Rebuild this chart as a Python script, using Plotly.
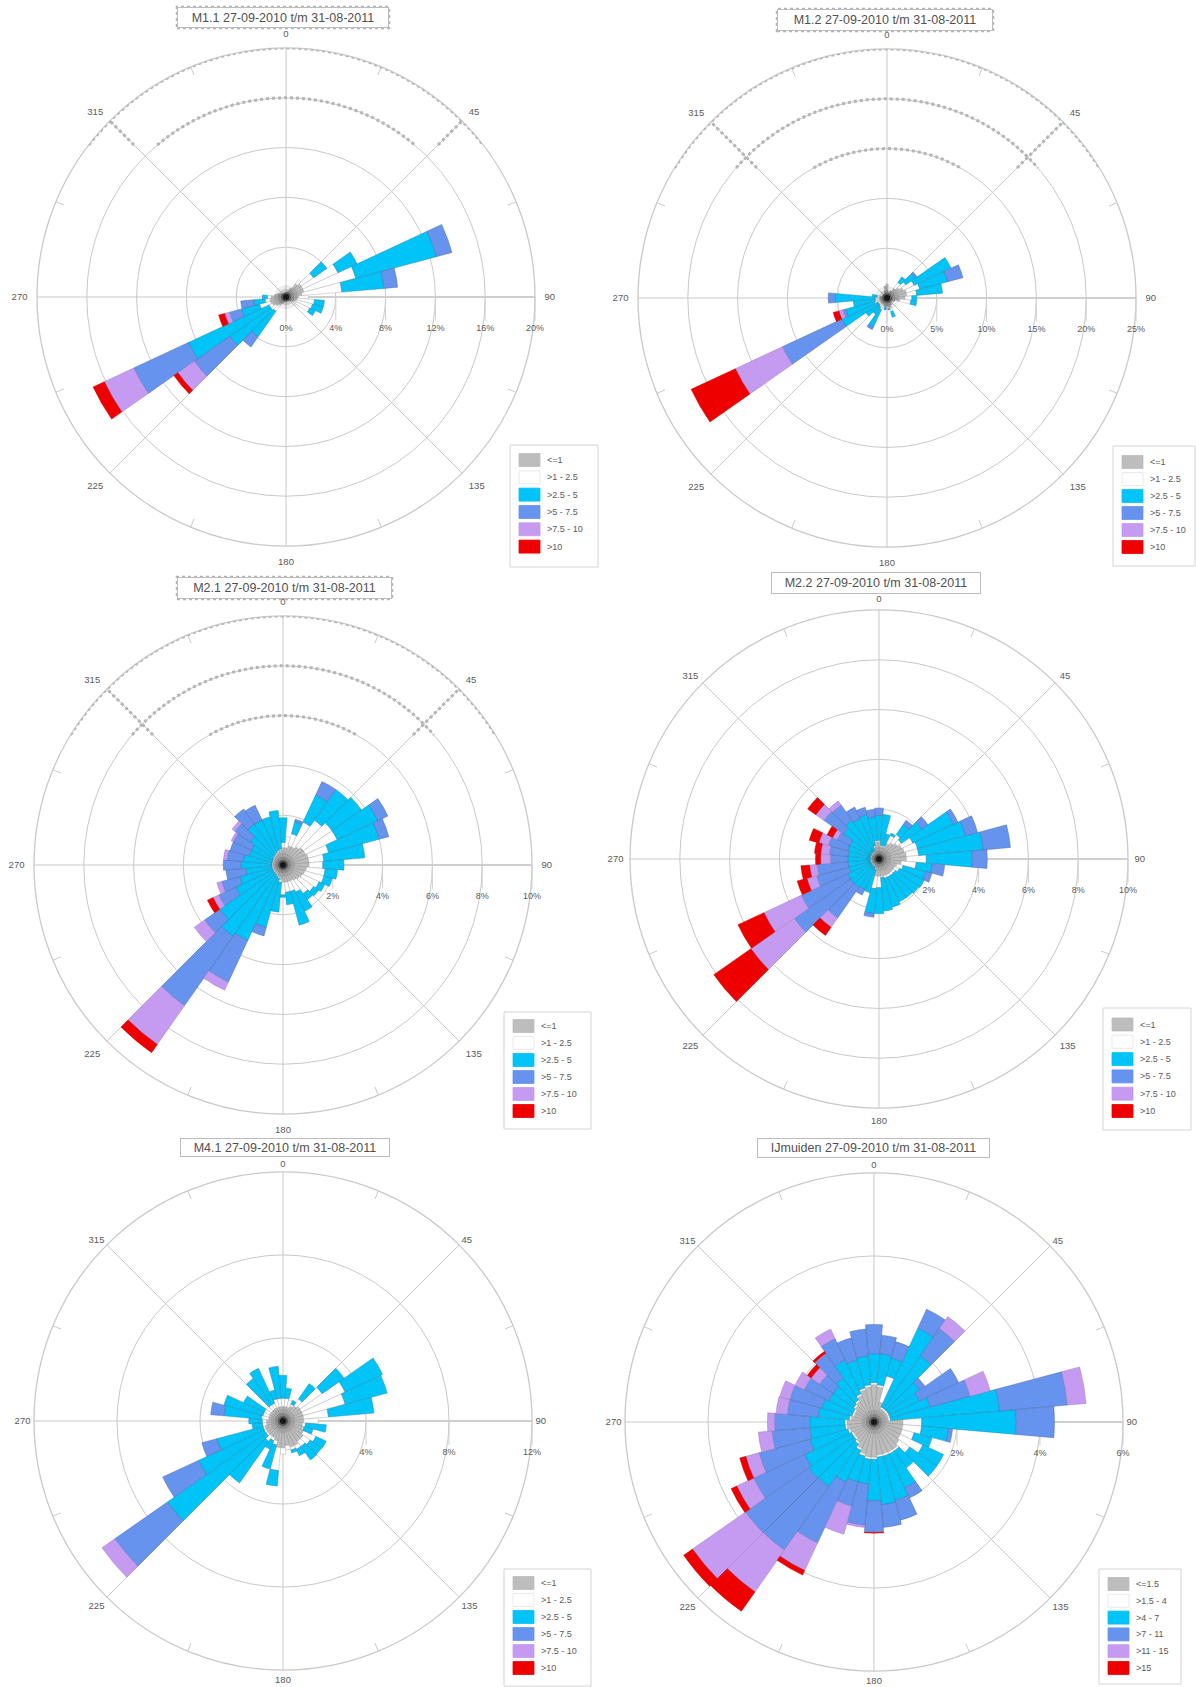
import numpy as np
import plotly.graph_objects as go

W, H = 1196, 1687
THETA = list(range(0, 360, 10))
CLASS_COLORS = ["#bdbdbd", "#ffffff", "#00c3f7", "#6693ee", "#c49bf0", "#ee0000"]
LINE_COLORS = ["#8a8a8a", "#aaaaaa", "#2a86a8", "#4a66a8", "#9a78c0", "#bb0000"]
LABELS_A = ["<=1", ">1 - 2.5", ">2.5 - 5", ">5 - 7.5", ">7.5 - 10", ">10"]
LABELS_B = ["<=1.5", ">1.5 - 4", ">4 - 7", ">7 - 11", ">11 - 15", ">15"]

# Outer limit of each speed class per direction, in percent (direction: value)
M11_GREY = [.3,.3,.5,.8,1.3,1.5,1.5,1.5,1.3,1.0,.9,.8,.7,.5,.4,.3,.3,.3,.3,.3,.4,.6,.8,1.0,1.2,1.3,1.3,1.2,.9,.7,.5,.4,.3,.3,.3,.3]
M11_WHITE = {40:1.7,50:2.7,60:4.6,70:5.8,80:4.5,90:1.8,100:2.3,110:2.2,120:2.1,130:1.0,220:1.4,230:1.5,240:1.5,250:2.2,260:1.7,270:1.5}
M11_CYAN = {50:4,60:6.3,70:12.5,80:7.9,100:3.1,110:3.1,120:2.6,220:3.9,230:5.5,240:8.65,250:3.7,260:2.6,270:1.9}
M11_BLUE = {70:13.8,80:9,220:4.9,230:9,240:13.5,250:4.7,260:3.65}
M11_PURPLE = {230:10.6,240:16.1,250:5.1}
M11_RED = {230:11,240:17.1,250:5.6}

M12_GREY = [1.4,.6,.6,.8,1.2,1.5,1.8,2,2,1.8,1.3,.8,.6,.5,.6,.8,1,1,.8,.9,.8,.7,.7,.7,.7,.7,.7,.7,.7,.5,.5,.5,.5,.5,.7,1.2]
M12_WHITE = {40:1.9,50:2.3,60:3,70:3.4,80:3,90:2.5,100:2.4,160:1.4,170:1.1,210:1.3,220:1.1,230:1,240:1,250:1.3,260:1.2,270:1.2,280:1}
M12_CYAN = {40:2.6,50:3.5,60:7.1,70:6.3,80:5.6,90:3,100:3,160:2,170:1.2,190:1.2,210:3.2,220:2,230:2.6,240:5,250:4.3,260:3.4,270:5.2,280:1.5}
M12_BLUE = {50:3.7,70:7.9,210:3.5,240:11.6,250:4.6,270:5.9}
M12_PURPLE = {240:16.8,250:5}
M12_RED = {240:21.7,250:5.6}

M21_GREY = [.7,.7,.8,.8,.9,1,1,1.05,1.05,1.05,.95,.9,.85,.8,.75,.7,.7,.7,.7,.6,.5,.45,.4,.4,.4,.4,.4,.4,.4,.4,.4,.45,.45,.5,.55,.6]
M21_WHITE = [.9,1.15,1.3,1.9,2.2,2.4,2.4,1.9,1.65,1.6,1.7,1.7,1.6,1.5,1.4,1.2,1.1,1.1,1.2,.7,.55,.5,.45,.45,.45,.45,.45,.45,.45,.45,.45,.5,.5,.55,.6,.65]
M21_CYAN = [1.9,1.15,1.8,3.1,3.7,3.85,4.2,4,3.3,2.45,2.2,2.05,1.85,1.75,1.7,2.05,2.5,1.6,1.3,1.9,2.6,3.35,3.5,3.1,2.1,1.8,1.5,1.7,1.6,1.4,1.4,1.6,2,2,2,2.2]
M21_BLUE = {20:1.9,30:3.7,60:4.65,70:4.4,200:2.95,210:5.2,220:6.9,230:3.85,240:2.85,250:2.55,260:2.3,270:2.4,280:2.25,290:2.2,300:2.2,310:2.35,320:2.75,330:2.65}
M21_PURPLE = {210:5.55,220:8.8,230:4.35,240:3.1,250:2.75,280:2.4,300:2.3,310:2.5}
M21_RED = {220:9.2,240:3.35}

M22_GREY = [.7,.5,.5,.7,.8,.9,1,1.05,1.1,1.1,.9,.75,.7,.7,.7,.7,.7,.7,.7,.7,.4,.3,.3,.3,.3,.3,.3,.3,.3,.3,.3,.3,.3,.3,.5,.7]
M22_WHITE = [.75,.55,.55,1.05,1.2,1.1,1.5,1.6,1.6,1.9,1.5,1,.9,.8,.8,.8,.8,.75,1.15,1.2,.45,.35,.35,.35,.35,.35,.35,.35,.35,.35,.35,.35,.35,.35,.55,.75]
M22_CYAN = [1.75,1.8,1.05,1.15,1.7,2.1,3.3,3.6,4.2,3.75,2.15,1.95,2,1.95,1.9,1.9,2,2.1,2.2,2.2,1.4,1.35,1.4,1.4,1.4,1.25,1.25,1.25,1.25,1.3,1.3,1.75,1.9,1.8,1.85,1.7]
M22_BLUE = {0:2.05,40:1.9,50:2.4,60:3.5,70:4.1,80:5.3,90:4.35,100:2.65,110:2.2,190:2.35,210:1.6,220:2.9,230:4.16,240:3.45,250:2.6,260:2.5,270:1.95,280:2,290:2.1,300:1.85,310:2.7,320:2.65,330:2.3,340:2.15,350:2}
M22_PURPLE = {220:3.35,230:6.28,240:5.1,250:3,260:2.8,270:2.35,280:2.35,290:2.5,300:2.05,310:3.1,320:2.85}
M22_RED = {220:3.75,230:8.1,240:6.25,250:3.4,260:3.15,270:2.55,280:2.6,290:2.9,300:2.3,310:3.5}

M41_GREY = [.7,.7,.7,.8,.9,1,1,1,1,1,.95,1,1.1,1.2,1.2,1.3,1.3,1.2,1.3,1.3,1,.9,.9,.9,.9,.9,.8,.8,.7,.7,.7,.7,.7,.7,.7,.7]
M41_WHITE = [1.1,1.1,1.05,.9,1.3,2.3,3.3,3.1,2.2,1.7,1.1,1.05,1.75,1.6,1.5,1.5,1.45,1.4,1.6,2.4,1.2,1.05,1.2,1,1,1,1,1,1.05,1,1,1,.95,.95,1.1,1.1]
M41_CYAN = [2.2,1.6,1.05,1.1,2.2,3.6,5.3,5.2,4.4,1.7,2.1,1.5,2.3,2.27,2.3,1.85,1.6,1.4,1.6,3.15,2.4,1.5,3.65,6.8,4.5,3.3,1.5,1.65,2.85,2.95,2.1,1,2.5,2.8,1.55,2.65]
M41_BLUE = {230:9.9,240:6.4,250:4.05,280:3.5}
M41_PURPLE = {230:10.65}
M41_RED = {}

IJM_GREY = [.9,.85,.5,.35,.35,.35,.35,.35,.35,.7,.7,.7,.7,.75,.8,.8,.8,.8,.85,.85,.8,.7,.6,.55,.55,.6,.65,.65,.55,.5,.5,.55,.6,.7,.8,.85]
IJM_WHITE = [.95,.9,1.15,.4,.4,.4,.4,.4,.4,1.15,1.15,1,1.3,1.05,.85,.85,.85,.85,.9,.9,.85,.75,.65,.6,.6,.65,.7,.7,.6,.55,.55,.6,.65,.75,.85,.9]
IJM_CYAN = [1.65,1.65,1.6,2.5,1.95,1.35,1.2,1.4,3.04,3.43,1.8,1.45,1.85,1.85,1.35,1.75,1.95,2,1.9,1.5,1.5,1.6,1.9,1.92,1.85,1.6,1.55,1.55,1.35,1.3,1.2,1.2,1.3,1.65,1.55,1.6]
IJM_BLUE = {0:2.35,10:2.1,20:2,30:3,40:2.75,50:1.5,60:2.25,70:2.4,80:4.68,90:4.35,100:1.9,150:2.02,160:2.45,170:2.55,180:2.65,190:2.5,200:2.1,210:3.22,220:3.77,230:3.78,240:3.2,250:2.87,260:2.47,270:2.4,280:2.1,290:2.1,300:1.85,310:1.6,320:2,330:2.22,340:2.1,350:2.25}
IJM_PURPLE = {40:3.1,70:2.9,80:5.13,180:2.66,190:2.55,200:2.8,210:3.95,220:5,230:5.34,240:3.65,250:3.2,260:2.8,270:2.57,280:2.37,290:2.35,300:2.1,310:1.85,320:2.02,330:2.47}
IJM_RED = {180:2.68,210:4.07,220:5.57,230:5.6,240:3.8,250:3.35,310:1.96,320:2.08}

CHARTS = [
    dict(title="M1.1 27-09-2010 t/m 31-08-2011", c=(286, 297), R=249, rticks=[0,4,8,12,16,20], alen=7,
         series=[M11_GREY,M11_WHITE,M11_CYAN,M11_BLUE,M11_PURPLE,M11_RED], labels=LABELS_A,
         tbox=(177,389,7,28), lbox=(510,598,445,567), rows=(460,546.6), noise=152),
    dict(title="M1.2 27-09-2010 t/m 31-08-2011", c=(887, 298), R=249, rticks=[0,5,10,15,20,25], alen=7,
         series=[M12_GREY,M12_WHITE,M12_CYAN,M12_BLUE,M12_PURPLE,M12_RED], labels=LABELS_A,
         tbox=(777,993,9,31), lbox=(1113,1195,446,566), rows=(462,547), noise=130),
    dict(title="M2.1 27-09-2010 t/m 31-08-2011", c=(283, 865), R=249, rticks=[2,4,6,8,10], alen=7,
         series=[M21_GREY,M21_WHITE,M21_CYAN,M21_BLUE,M21_PURPLE,M21_RED], labels=LABELS_A,
         tbox=(177,392,577,599), lbox=(504,591,1012,1129), rows=(1026,1111), noise=130),
    dict(title="M2.2 27-09-2010 t/m 31-08-2011", c=(879, 859), R=249, rticks=[2,4,6,8,10], alen=4,
         series=[M22_GREY,M22_WHITE,M22_CYAN,M22_BLUE,M22_PURPLE,M22_RED], labels=LABELS_A,
         tbox=(771,981,572,594), lbox=(1103,1191,1008,1130), rows=(1024.5,1111), noise=None),
    dict(title="M4.1 27-09-2010 t/m 31-08-2011", c=(283, 1421), R=249, rticks=[4,8,12], alen=1,
         series=[M41_GREY,M41_WHITE,M41_CYAN,M41_BLUE,M41_PURPLE,M41_RED], labels=LABELS_A,
         tbox=(180,390,1138,1157), lbox=(504,591,1569,1686), rows=(1583,1668), noise=None),
    dict(title="IJmuiden 27-09-2010 t/m 31-08-2011", c=(874, 1422), R=249, rticks=[2,4,6], alen=1,
         series=[IJM_GREY,IJM_WHITE,IJM_CYAN,IJM_BLUE,IJM_PURPLE,IJM_RED], labels=LABELS_B,
         tbox=(757,990,1138,1158), lbox=(1099,1181,1569,1684), rows=(1584,1668), noise=None),
]

GRID = "#c9c9c9"
TEXT = "#5a5a5a"
FONT = "Liberation Sans, Arial, sans-serif"


def full(series):
    if isinstance(series, dict):
        return [series.get(t, 0) for t in THETA]
    return list(series)


def class_values(series):
    cum = np.maximum.accumulate(np.array([full(s) for s in series], dtype=float), axis=0)
    return np.diff(cum, axis=0, prepend=0)


fig = go.Figure()
layout = {}
shapes, annos = [], []
for i, ch in enumerate(CHARTS):
    key = "polar" if i == 0 else f"polar{i+1}"
    cx, cy = ch["c"]
    R = ch["R"]
    rmax = ch["rticks"][-1]
    layout[key] = dict(
        domain=dict(x=[(cx - R) / W, (cx + R) / W], y=[1 - (cy + R) / H, 1 - (cy - R) / H]),
        bgcolor="white",
        barmode="stack",
        radialaxis=dict(range=[0, rmax], tickvals=ch["rticks"], ticktext=[f"{v}%" for v in ch["rticks"]],
                        angle=0, side="clockwise", ticks="outside", ticklen=23, tickwidth=0.7,
                        tickcolor="#d0d0d0", tickangle=0, showline=True, linecolor=GRID, linewidth=1.3,
                        showgrid=True, gridcolor=GRID, gridwidth=1.3, layer="below traces",
                        tickfont=dict(size=9, color=TEXT, family=FONT)),
        angularaxis=dict(direction="clockwise", rotation=90, tickmode="array",
                         tickvals=list(range(0, 360, 45)), ticktext=[str(v) for v in range(0, 360, 45)],
                         ticks="outside", ticklen=ch["alen"], tickcolor="rgba(0,0,0,0)",
                         showline=True, linecolor=GRID, linewidth=1.3, layer="below traces",
                         showgrid=True, gridcolor=GRID, gridwidth=1.3,
                         tickfont=dict(size=9.5, color=TEXT, family=FONT)),
    )
    vals = class_values(ch["series"])
    subplot = key
    for k in range(6):
        th = [t for t, v in zip(THETA, vals[k]) if v > 0]
        rr = [round(float(v), 3) for v in vals[k] if v > 0]
        fig.add_trace(go.Barpolar(theta=th, r=rr, width=[10] * len(th), name=ch["labels"][k], subplot=subplot,
                                  marker=dict(color=CLASS_COLORS[k], line=dict(color=LINE_COLORS[k], width=0.45)),
                                  showlegend=False))
    # dark hub where the sector outlines converge
    fig.add_trace(go.Scatterpolar(theta=[0, 0, 0, 0], r=[0, 0, 0, 0], mode="markers", subplot=subplot,
                                  showlegend=False, hoverinfo="skip",
                                  marker=dict(size=[24, 16, 10, 6], line=dict(width=0),
                                              color=["rgba(60,60,60,.14)", "rgba(40,40,40,.25)",
                                                     "rgba(0,0,0,.5)", "rgba(0,0,0,1)"])))
    # small marks on the outer ring, every 22.5 degrees
    tk_t, tk_r = [], []
    for t in np.arange(22.5, 360, 45):
        tk_t += [t, t, None]
        tk_r += [rmax, rmax * 0.965, None]
    fig.add_trace(go.Scatterpolar(theta=tk_t, r=tk_r, mode="lines", subplot=subplot, showlegend=False,
                                  line=dict(color=GRID, width=1), hoverinfo="skip"))
    # speckled upper part of the rings in the first three panels
    if ch["noise"]:
        d = ch["noise"] / R * rmax
        for ring in ch["rticks"]:
            if ring <= d or ring == 0:
                continue
            lim = float(np.degrees(np.arccos(d / ring)))
            t = np.linspace(-lim, lim, 60)
            fig.add_trace(go.Scatterpolar(theta=list(t % 360), r=[ring] * 60, mode="lines", subplot=subplot,
                                          showlegend=False, hoverinfo="skip",
                                          line=dict(color="#b5b5b5", width=3, dash="dot")))
        for a in (45, 315):
            r0 = d / np.cos(np.radians(45))
            fig.add_trace(go.Scatterpolar(theta=[a, a], r=[r0, rmax], mode="lines", subplot=subplot,
                                          showlegend=False, hoverinfo="skip",
                                          line=dict(color="#b5b5b5", width=3, dash="dot")))

    # title box
    x0, x1, y0, y1 = ch["tbox"]
    annos.append(dict(xref="paper", yref="paper", x=(x0 + x1) / 2 / W, y=1 - (y0 + y1) / 2 / H,
                      text=ch["title"], showarrow=False, bgcolor="white", xanchor="center", yanchor="middle",
                      bordercolor="#bcbcbc", borderwidth=1, borderpad=2, width=x1 - x0 - 6, height=y1 - y0 - 6,
                      font=dict(size=12.5, color="#505050", family=FONT)))
    if ch["noise"]:
        shapes.append(dict(type="rect", xref="paper", yref="paper", x0=x0 / W, x1=x1 / W,
                           y0=1 - y1 / H, y1=1 - y0 / H, layer="above",
                           line=dict(color="#b5b5b5", width=2.5, dash="dot")))
    # legend box
    bx0, bx1, by0, by1 = ch["lbox"]
    shapes.append(dict(type="rect", xref="paper", yref="paper", x0=bx0 / W, x1=bx1 / W,
                       y0=1 - by1 / H, y1=1 - by0 / H, line=dict(color="#d4d4d4", width=1),
                       fillcolor="white", layer="above"))
    rows = np.linspace(ch["rows"][0], ch["rows"][1], 6)
    for k, yy in enumerate(rows):
        shapes.append(dict(type="rect", xref="paper", yref="paper", x0=(bx0 + 9) / W, x1=(bx0 + 30) / W,
                           y0=1 - (yy + 6.5) / H, y1=1 - (yy - 6.5) / H, layer="above",
                           fillcolor=CLASS_COLORS[k],
                           line=dict(color="#e4e4e4" if k == 1 else CLASS_COLORS[k], width=0.8)))
        annos.append(dict(xref="paper", yref="paper", x=(bx0 + 35) / W, y=1 - yy / H, text=ch["labels"][k]
                          .replace("<", "&lt;").replace(">", "&gt;"),
                          showarrow=False, xanchor="left", yanchor="middle",
                          font=dict(size=9, color=TEXT, family=FONT)))

fig.update_layout(width=W, height=H, margin=dict(l=0, r=0, t=0, b=0), paper_bgcolor="white",
                  showlegend=False, shapes=shapes, annotations=annos, **layout)
fig.write_html("out.html", config={"displayModeBar": False},
               post_script="document.body.style.margin='0';document.body.style.overflow='hidden';")
